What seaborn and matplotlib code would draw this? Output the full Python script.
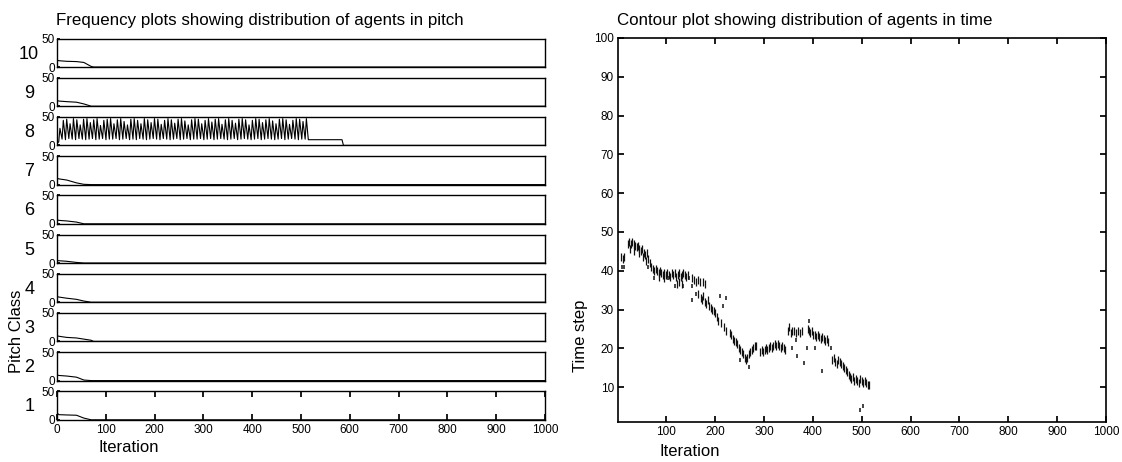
import numpy as np
import pandas as pd
import matplotlib
matplotlib.use("Agg")
import matplotlib.pyplot as plt
import seaborn as sns

sns.set_theme(style="white")
plt.rcParams['font.family'] = ['Liberation Sans', 'DejaVu Sans']

# ---------------- data ----------------
left_title = "Frequency plots showing distribution of agents in pitch"
right_title = "Contour plot showing distribution of agents in time"
pitch_classes = [10, 9, 8, 7, 6, 5, 4, 3, 2, 1]
iter_ticks = [0, 100, 200, 300, 400, 500, 600, 700, 800, 900, 1000]

# small decaying populations (pitch classes other than 8)
decay_iter = [0, 4, 20, 40, 55, 70, 75, 1000]
pc10 = [12, 11, 10, 9.5, 8, 1, 0, 0]
pc9 = [10, 9, 8, 7, 4, 0, 0, 0]
pc7 = [11, 10, 8, 3, 0.5, 0, 0, 0]
pc6 = [7, 6, 5, 3, 0, 0, 0, 0]
pc5 = [4, 4, 3, 1, 0, 0, 0, 0]
pc4 = [10, 9, 7, 5, 2, 0, 0, 0]
pc3 = [10, 9, 7, 6, 4, 2, 0, 0]
pc2 = [10, 9, 8, 6, 1, 0, 0, 0]
pc1 = [12, 9, 8.5, 8, 3, 0, 0, 0]

# pitch class 8: oscillating population
pc8_peaks = [30, 44, 46, 38, 47, 45, 36, 46, 47, 40, 45, 47, 35, 44, 46, 47, 38, 45, 47,
             42, 36, 46, 47, 44, 38, 47, 45, 40, 47, 46, 37, 44, 47, 45, 39, 46, 47, 43,
             36, 45, 47, 46, 38, 44, 47, 41, 46, 47, 37, 45, 47, 44, 39, 46, 47, 45, 36,
             44, 47, 46, 40, 45, 47, 43, 38, 46, 47, 45, 37, 44, 47, 46, 42, 47]
pc8_troughs = [6, 11, 10, 12, 11, 10, 12, 11, 10, 11, 12, 10, 11, 12, 10, 11, 11, 12, 10,
               11, 12, 10, 11, 10, 12, 11, 10, 11, 12, 11, 10, 12, 11, 10, 11, 12, 10, 11,
               12, 10, 11, 11, 12, 10, 11, 12, 10, 11, 12, 11, 10, 11, 12, 10, 11, 12, 11,
               10, 11, 12, 10, 11, 12, 11, 10, 11, 12, 10, 11, 12, 11, 10, 11, 11]
pc8_tail_iter = [515, 584, 587, 1000]
pc8_tail = [10, 10, 0, 0]

# time-step distribution (contour blobs)
blob_iter = [8, 11, 14,
             21, 24, 27, 30, 33, 36, 39, 42, 45, 48, 51, 54, 57, 60, 63, 25, 34, 43, 52, 58,
             66, 69, 72, 75, 78, 81, 84, 87, 90, 93, 96, 99, 102, 105, 108, 85, 95,
             111, 114, 117, 120, 123, 126, 129, 132, 135, 138, 141, 144, 121, 126, 131,
             152, 157, 161, 165, 169, 174, 179,
             165, 170, 173, 176, 179, 182, 185, 188, 191, 194, 197, 200, 203, 206, 211, 217, 222,
             230, 233, 236, 239, 242, 245, 248, 251, 254, 257, 260, 263, 266, 269, 272, 275, 278, 281, 284,
             292, 295, 298, 301, 304, 307, 310, 313, 316, 319, 322, 325, 328, 331, 334, 337, 340, 343,
             349, 351, 355, 358, 362, 366, 370, 374, 378,
             389, 392, 395, 398, 401, 404, 407, 410, 413, 416, 419, 422, 425, 428, 431,
             440, 443, 446, 449, 452, 455, 458, 461, 464, 467, 470,
             473, 476, 479, 482, 485, 488, 491, 494, 497, 500, 503, 506, 509, 512, 515]
blob_step = [43.5, 43, 43.5,
             47, 47.5, 47, 47.5, 47, 46.5, 46, 46.5, 45.5, 45, 45.5, 44.5, 44, 44.5, 43, 45.5, 45, 44.5, 43.5, 42.5,
             42, 41, 40.5, 40, 40.5, 40, 39.5, 40, 39.5, 39, 39.5, 39, 39.5, 39, 38.5, 38.5, 38,
             39.5, 39, 39.5, 38.5, 39, 39.5, 38.5, 39, 39.5, 39, 38.5, 39, 36.5, 37, 36.5,
             38, 37.5, 37, 37.5, 37, 37, 36.5,
             34, 33, 32.5, 33.5, 32, 31.5, 32.5, 31, 30.5, 30, 29.5, 29, 28, 27, 26.5, 25.5, 24.5,
             24, 23.5, 22.5, 22, 21.5, 21, 20, 19.5, 19, 18.5, 17.5, 17, 17.5, 18.5, 19, 19.5, 20, 20.5, 20.5,
             19, 19.5, 19, 19.5, 20, 19.5, 20, 20.5, 20, 20.5, 21, 20.5, 21, 20.5, 20, 20.5, 20, 19.5,
             24.5, 25.5, 24, 24.5, 24.5, 24, 24.5, 24, 24.5,
             25, 24.5, 24, 24.5, 23.5, 23.5, 23, 23.5, 23, 22.5, 23, 22.5, 22, 22.5, 21.5,
             17, 17.5, 16.5, 16, 17, 16.5, 16, 15.5, 15, 14.5, 14,
             13, 12.5, 12, 12.5, 11.5, 12, 11.5, 11, 12, 11.5, 11, 11.5, 11, 10.5, 10.5]
dot_iter = [10, 14, 63, 74, 104, 118, 135, 147, 152, 152, 160, 210, 215, 222, 250, 270,
            357, 365, 368, 381, 387, 391, 405, 418, 437, 496, 503]
dot_step = [41, 41, 41, 38, 38, 36, 36, 38, 36, 32.5, 34, 33.5, 31, 33, 17, 15.3,
            20, 22.2, 18, 16.2, 20, 27.1, 20, 14.2, 20, 4.1, 5.1]

# ---------------- figure ----------------
W, H = 1122, 462
fig = plt.figure(figsize=(W / 100, H / 100), dpi=100)

def fx(px):
    return px / W

def fy(py):
    return 1 - py / H

row_vals = {10: pc10, 9: pc9, 7: pc7, 6: pc6, 5: pc5, 4: pc4, 3: pc3, 2: pc2, 1: pc1}

# build pitch-class 8 series
pk_pos = np.linspace(6, 511, len(pc8_peaks))
x8 = [0.0]
y8 = [pc8_troughs[0] - 2]
for i in range(len(pc8_peaks)):
    x8 += [pk_pos[i] - 2.5, pk_pos[i]]
    y8 += [pc8_troughs[i], pc8_peaks[i]]
x8 += pc8_tail_iter
y8 += pc8_tail

TICK_FS = 8.5
LABEL_FS = 12
left_x0, left_x1 = 57, 545
row_h = 28.5
row_step = 39.2
row_top0 = 38.5
lw = 1.0

for k, pc in enumerate(pitch_classes):
    top = row_top0 + k * row_step
    ax = fig.add_axes([fx(left_x0), fy(top + row_h), fx(left_x1 - left_x0), row_h / H])
    if pc == 8:
        df = pd.DataFrame({"Iteration": x8, "Count": y8})
    else:
        df = pd.DataFrame({"Iteration": decay_iter, "Count": row_vals[pc]})
    sns.lineplot(data=df, x="Iteration", y="Count", ax=ax, color="black",
                 linewidth=0.8, sort=False, estimator=None)
    ax.set_xlim(0, 1000)
    ax.set_ylim(0, 50)
    ax.set_yticks([0, 50])
    ax.set_yticklabels(["0", "50"], fontsize=TICK_FS)
    ax.set_xlabel("")
    ax.set_ylabel("")
    for s in ax.spines.values():
        s.set_color("black")
        s.set_linewidth(lw)
    ax.tick_params(axis="y", direction="in", length=2, pad=1.5, left=True, right=False,
                   labelsize=TICK_FS, colors="black")
    if pc == 1:
        ax.set_xticks(iter_ticks)
        ax.set_xticklabels([str(t) for t in iter_ticks], fontsize=TICK_FS)
        ax.tick_params(axis="x", direction="in", length=4, pad=3, top=True, bottom=True,
                       labelsize=TICK_FS, colors="black")
    else:
        ax.set_xticks([])
    ax.text(-0.057, 0.45, str(pc), transform=ax.transAxes, ha="center", va="center",
            fontsize=13, color="black")
    ax.patch.set_facecolor("white")

fig.text(fx(56), fy(20), left_title, ha="left", va="center", fontsize=12.2, color="black")
fig.text(fx(17), fy(331), "Pitch Class", rotation=90, ha="center", va="center",
         fontsize=LABEL_FS, color="black")
fig.text(fx(129), fy(448), "Iteration", ha="center", va="center", fontsize=LABEL_FS, color="black")

# right panel
ax2 = fig.add_axes([fx(618), fy(422), fx(1106 - 618), (422 - 38) / H])
dfb = pd.DataFrame({"Iteration": blob_iter, "Time step": blob_step})
dfd = pd.DataFrame({"Iteration": dot_iter, "Time step": dot_step})
sns.scatterplot(data=dfb, x="Iteration", y="Time step", ax=ax2, marker="|", s=30,
                color="#111111", linewidth=0.9, edgecolor=None)
sns.scatterplot(data=dfd, x="Iteration", y="Time step", ax=ax2, marker="|", s=6,
                color="#111111", linewidth=1.1, edgecolor=None)
ax2.set_xlim(1, 1000)
ax2.set_ylim(1, 100)
ax2.set_xticks(iter_ticks[1:])
ax2.set_xticklabels([str(t) for t in iter_ticks[1:]], fontsize=TICK_FS)
ax2.set_yticks(list(range(10, 101, 10)))
ax2.set_yticklabels([str(t) for t in range(10, 101, 10)], fontsize=TICK_FS)
ax2.set_xlabel("")
ax2.set_ylabel("")
for s in ax2.spines.values():
    s.set_color("black")
    s.set_linewidth(1.2)
ax2.tick_params(axis="both", direction="in", length=4, pad=3, top=True, bottom=True,
                left=True, right=True, labelsize=TICK_FS, colors="black")
fig.text(fx(617), fy(21), right_title, ha="left", va="center", fontsize=12.2, color="black")
fig.text(fx(581), fy(336), "Time step", rotation=90, ha="center", va="center",
         fontsize=LABEL_FS, color="black")
fig.text(fx(690), fy(452), "Iteration", ha="center", va="center", fontsize=LABEL_FS, color="black")

fig.savefig("out.png", dpi=100, facecolor="white")
